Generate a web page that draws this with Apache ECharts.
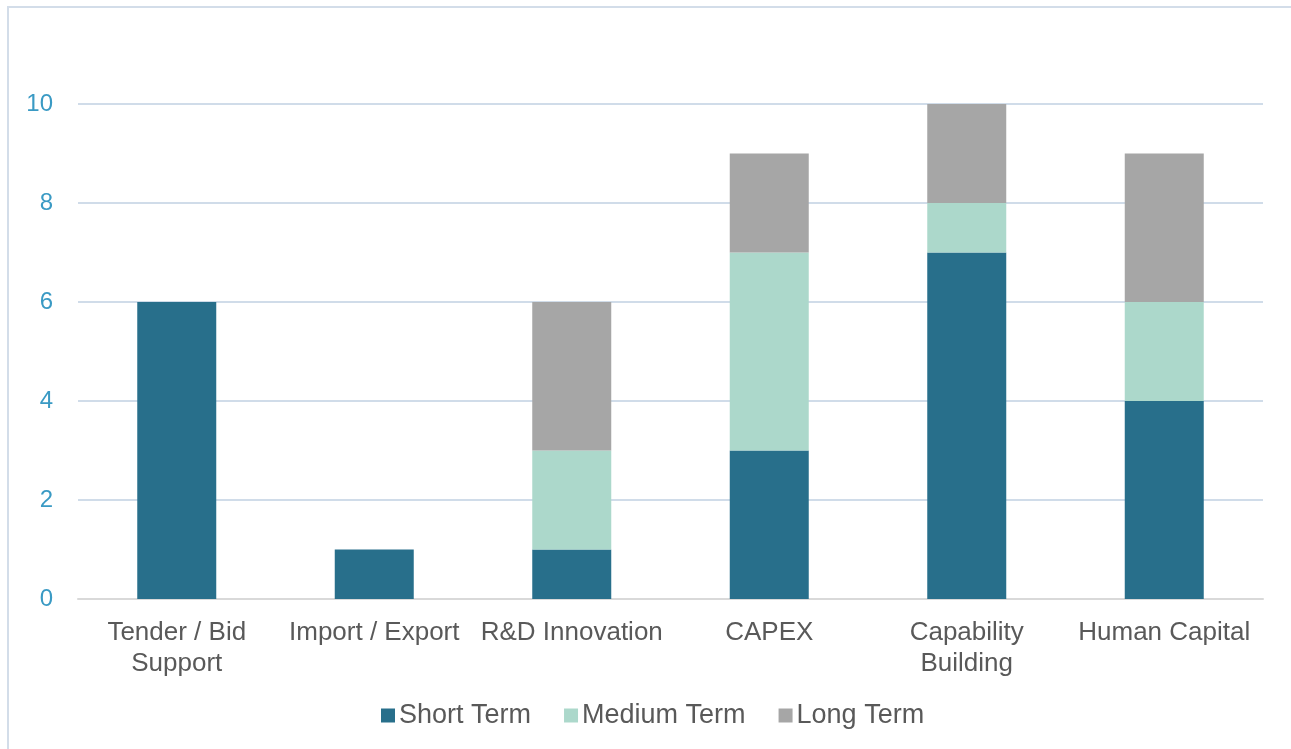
<!DOCTYPE html>
<html>
<head>
<meta charset="utf-8">
<script src="https://cdn.jsdelivr.net/npm/echarts@6/dist/echarts.min.js"></script>
<style>
html,body{margin:0;padding:0;background:#fff;}
#chart{width:1291px;height:749px;}
</style>
</head>
<body>
<div id="chart"></div>
<script>
const categories = ['Tender / Bid\nSupport', 'Import / Export', 'R&D Innovation', 'CAPEX', 'Capability\nBuilding', 'Human Capital'];
const shortTerm = [6, 1, 1, 3, 7, 4];
const mediumTerm = [0, 0, 2, 4, 1, 2];
const longTerm = [0, 0, 3, 2, 2, 3];
const yTicks = [0, 2, 4, 6, 8, 10];

const chart = echarts.init(document.getElementById('chart'), null, {renderer: 'canvas'});
const font = 'Liberation Sans, Arial, sans-serif';
chart.setOption({
  animation: false,
  backgroundColor: '#ffffff',
  graphic: [{
    type: 'rect',
    shape: {x: 8, y: 7, width: 1400, height: 800},
    style: {fill: 'none', stroke: '#d3dde9', lineWidth: 2},
    silent: true
  }],
  grid: {left: 78, right: 28, top: 104, bottom: 150, containLabel: false},
  legend: {
    top: 697,
    left: 376,
    itemWidth: 14,
    itemHeight: 14,
    itemGap: 33,
    icon: 'rect',
    textStyle: {fontFamily: font, fontSize: 27, color: '#595959', padding: [0, 0, 0, -1]},
    data: ['Short Term', 'Medium Term', 'Long Term']
  },
  xAxis: {
    type: 'category',
    data: categories,
    axisLine: {lineStyle: {color: '#d9d9d9', width: 2}},
    axisTick: {show: false},
    axisLabel: {fontFamily: font, fontSize: 26, color: '#595959', margin: 18, lineHeight: 31, interval: 0}
  },
  yAxis: {
    type: 'value',
    min: 0,
    max: 10,
    interval: 2,
    axisLine: {show: false},
    axisTick: {show: false},
    splitLine: {lineStyle: {color: '#d0dce9', width: 2}},
    axisLabel: {fontFamily: font, fontSize: 24, color: '#3a9ac4', margin: 25,
      formatter: v => yTicks.includes(v) ? String(v) : ''}
  },
  series: [
    {name: 'Short Term', type: 'bar', stack: 'total', data: shortTerm, barWidth: 79, itemStyle: {color: '#286f8b'}},
    {name: 'Medium Term', type: 'bar', stack: 'total', data: mediumTerm, barWidth: 79, itemStyle: {color: '#acd8cb'}},
    {name: 'Long Term', type: 'bar', stack: 'total', data: longTerm, barWidth: 79, itemStyle: {color: '#a6a6a6'}}
  ]
});
</script>
</body>
</html>
